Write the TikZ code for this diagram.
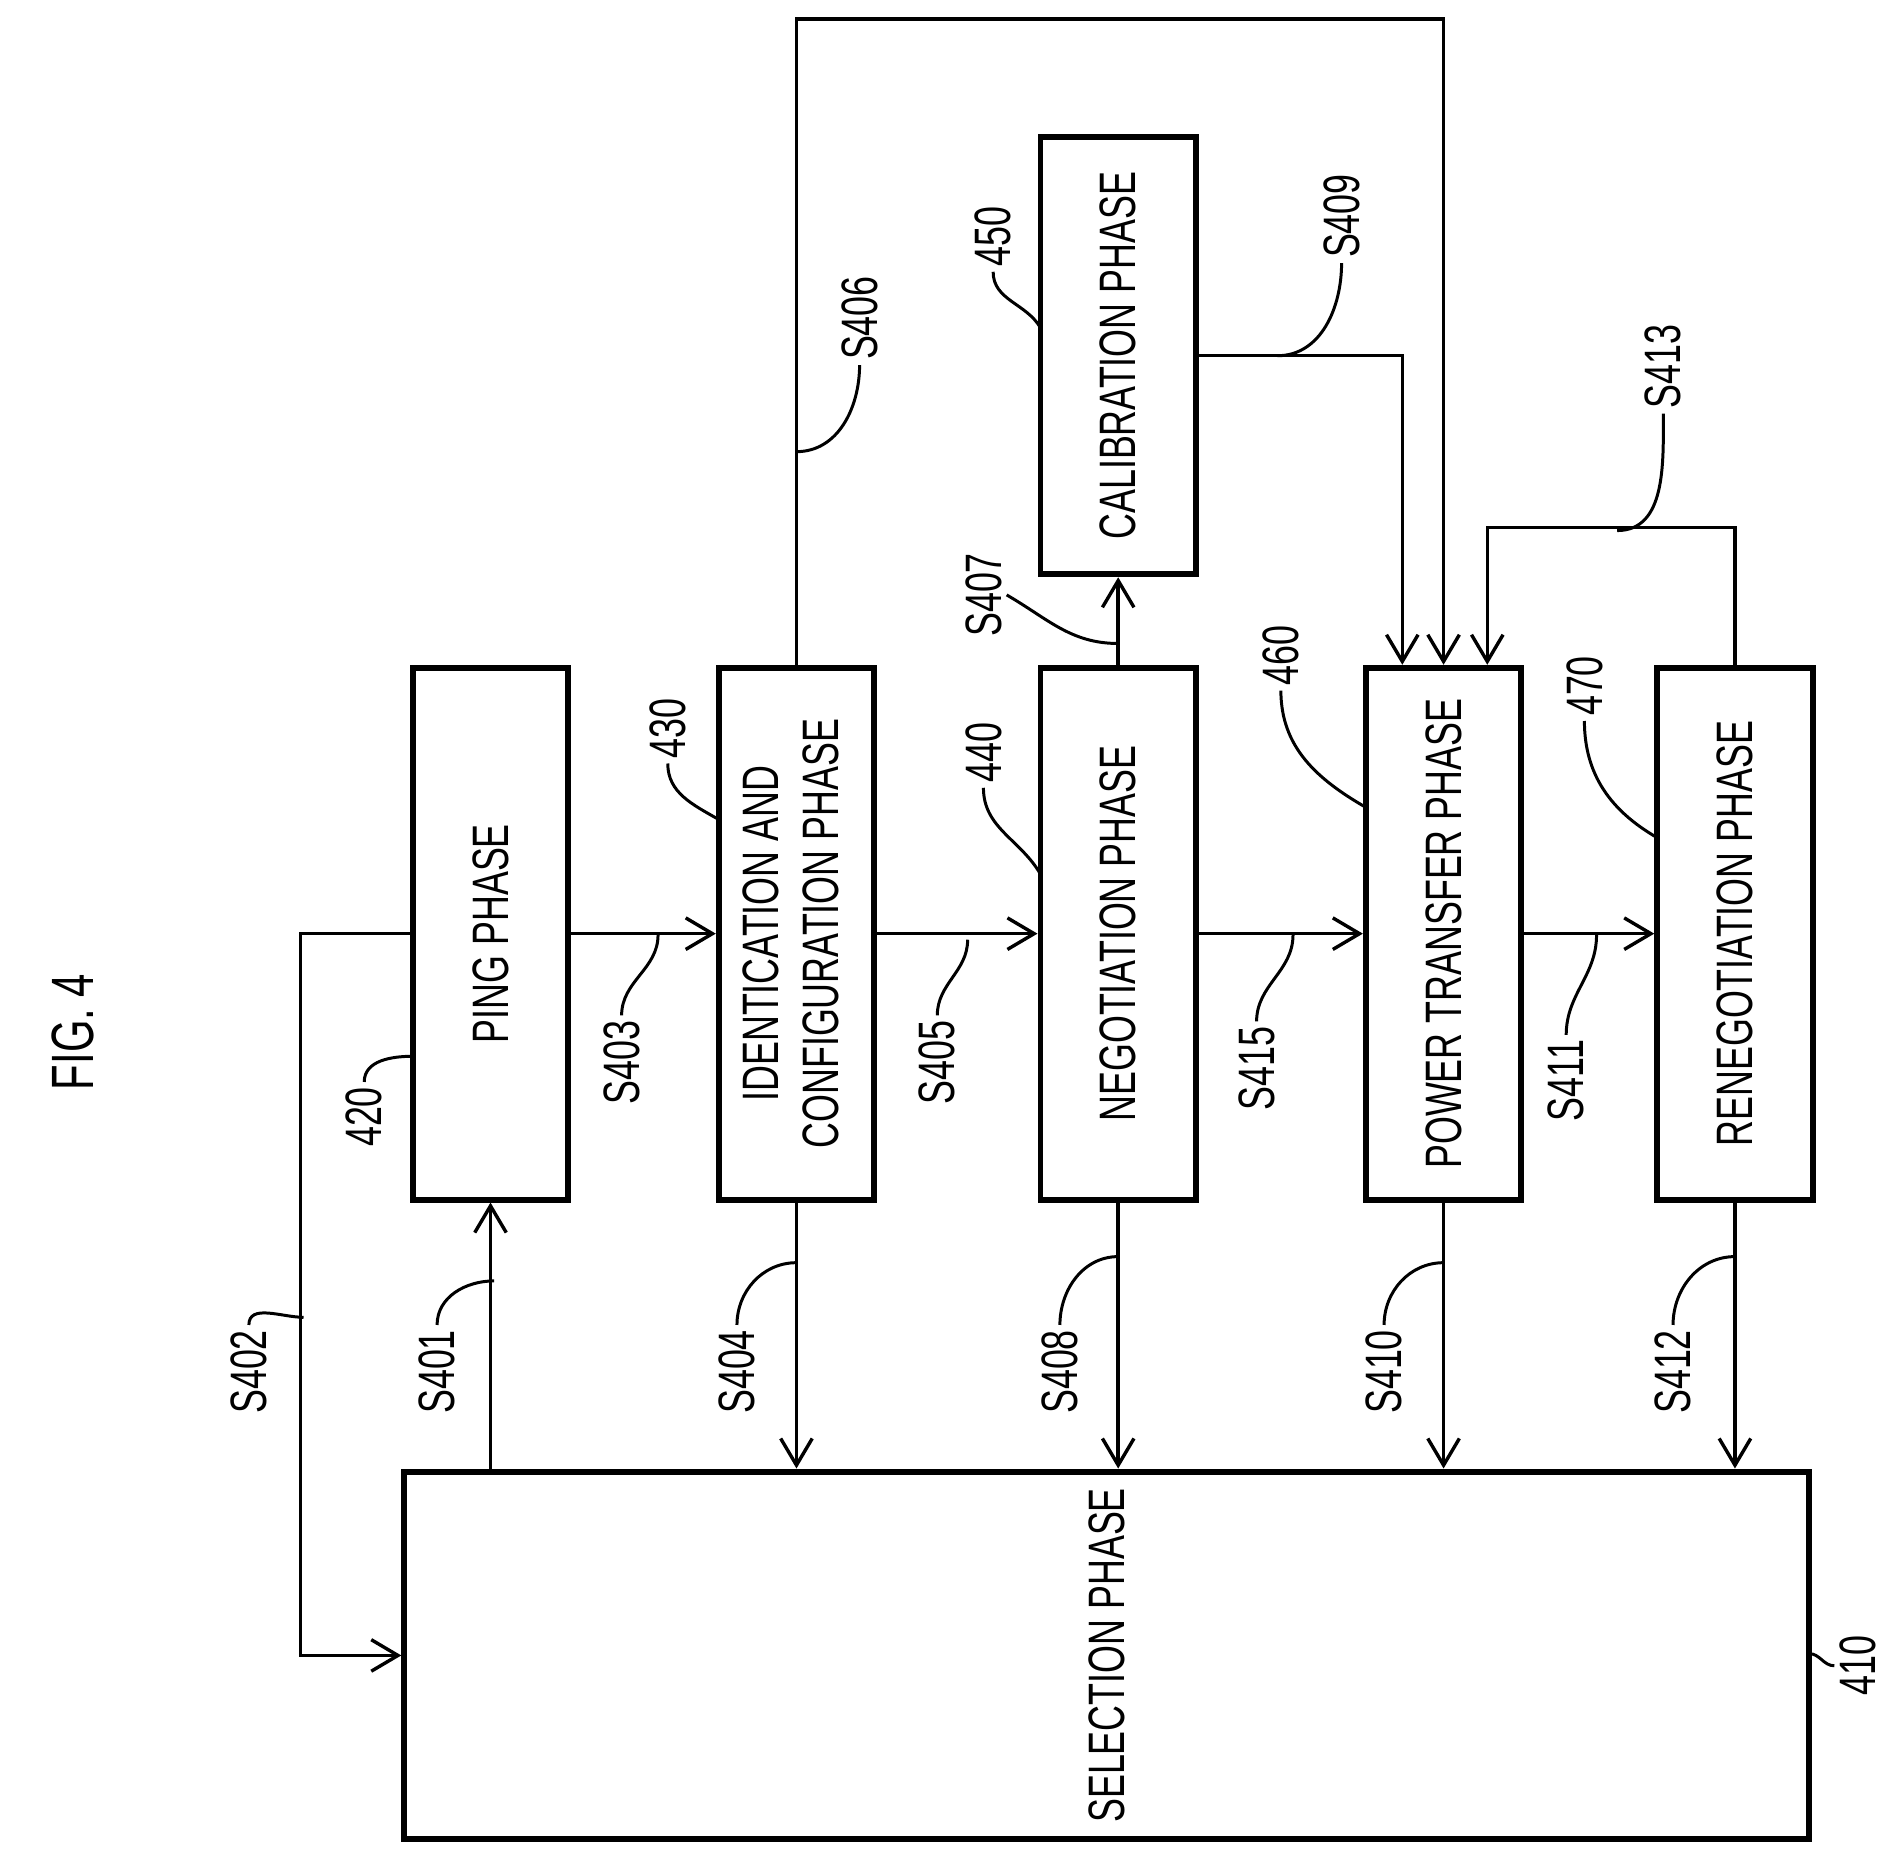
\documentclass[tikz,border=0pt]{standalone}
\usepackage{fontspec}
\setmainfont{Liberation Sans}[FakeStretch=0.7]
\usetikzlibrary{arrows.meta,calc}

\tikzset{
  phase/.style={draw, line width=1.4pt, minimum width=12.8mm, minimum height=43.8mm, inner sep=0pt, font=\fontsize{12}{14}\selectfont},
  flow/.style={line width=0.8pt, -{Straight Barb[length=2.2mm,width=2.6mm]}},
  lbl/.style={inner sep=1pt, font=\fontsize{12}{14}\selectfont},
  lead/.style={line width=0.7pt}
}
\newcommand{\vtext}[1]{\rotatebox{90}{#1}}

\begin{document}
\begin{tikzpicture}[x=0.1mm, y=-0.1mm]
  \useasboundingbox (0,0) rectangle (1560,1528);

  % phase boxes
  \node[phase, minimum width=115.7mm, minimum height=30.3mm] (sel) at (911.5,1363.5) {\vtext{SELECTION PHASE}};
  \node[phase] (ping) at (404,769) {\vtext{PING PHASE}};
  \node[phase] (ident) at (656,769) {\vtext{\begin{tabular}{c}IDENTICATION AND\\CONFIGURATION PHASE\end{tabular}}};
  \node[phase] (nego) at (921,769) {\vtext{NEGOTIATION PHASE}};
  \node[phase, minimum height=36mm] (calib) at (921,293) {\vtext{CALIBRATION PHASE}};
  \node[phase] (power) at (1189,769) {\vtext{POWER TRANSFER PHASE}};
  \node[phase] (reneg) at (1429,769) {\vtext{RENEGOTIATION PHASE}};

  \node[font=\fontsize{14}{16}\selectfont] (fig) at (60,850) {\vtext{FIG. 4}};

  % transitions
  \draw[flow] (sel.north -| ping.south) -- (ping.south);
  \draw[flow] (ping.west) -- ++(-90,0) |- (sel.west);
  \draw[flow] (ping.east) -- (ident.west);
  \draw[flow] (ident.south) -- (ident.south |- sel.north);
  \draw[flow] (ident.east) -- (nego.west);
  \draw[flow] (ident.north) -- ++(0,-532) -| (power.north);
  \draw[flow] (nego.north) -- (calib.south);
  \draw[flow] (nego.south) -- (nego.south |- sel.north);
  \draw[flow] (calib.east) -| ($(power.north)+(-34,0)$);
  \draw[flow] (power.south) -- (power.south |- sel.north);
  \draw[flow] (power.east) -- (reneg.west);
  \draw[flow] (reneg.south) -- (reneg.south |- sel.north);
  \draw[flow] (reneg.north) -- ++(0,-113) -| ($(power.north)+(36,0)$);
  \draw[flow] (nego.east) -- (power.west);

  % reference labels
  \node[lbl] (l401) at (360,1130) {\vtext{S401}};
  \node[lbl] (l402) at (205,1130) {\vtext{S402}};
  \node[lbl] (l403) at (512,875) {\vtext{S403}};
  \node[lbl] (l404) at (607,1130) {\vtext{S404}};
  \node[lbl] (l405) at (772,875) {\vtext{S405}};
  \node[lbl] (l406) at (708,262) {\vtext{S406}};
  \node[lbl] (l407) at (810,490) {\vtext{S407}};
  \node[lbl] (l408) at (873,1130) {\vtext{S408}};
  \node[lbl] (l409) at (1105,178) {\vtext{S409}};
  \node[lbl] (l410) at (1140,1130) {\vtext{S410}};
  \node[lbl] (l411) at (1290,890) {\vtext{S411}};
  \node[lbl] (l412) at (1378,1130) {\vtext{S412}};
  \node[lbl] (l413) at (1370,302) {\vtext{S413}};
  \node[lbl] (l415) at (1035,880) {\vtext{S415}};
  \node[lbl] (l410b) at (1530,1372) {\vtext{410}};
  \node[lbl] (l420) at (300,920) {\vtext{420}};
  \node[lbl] (l430) at (550,600) {\vtext{430}};
  \node[lbl] (l440) at (810,620) {\vtext{440}};
  \node[lbl] (l450) at (818,195) {\vtext{450}};
  \node[lbl] (l460) at (1055,540) {\vtext{460}};
  \node[lbl] (l470) at (1305,565) {\vtext{470}};

  % leader points
  \coordinate (c401) at (407,1055);
  \coordinate (c402) at (250,1085);
  \coordinate (c403) at (542,770);
  \coordinate (c404) at (656,1040);
  \coordinate (c405) at (797,774);
  \coordinate (c406) at (656,372);
  \coordinate (c407) at (921,530);
  \coordinate (c408) at (921,1035);
  \coordinate (c409) at (1052,293);
  \coordinate (c410) at (1189,1040);
  \coordinate (c411) at (1315,770);
  \coordinate (c412) at (1429,1035);
  \coordinate (c413) at (1332,437);
  \coordinate (c415) at (1065,770);
  \coordinate (c410b) at (1490,1362);
  \coordinate (c420) at (340,870);
  \coordinate (c430) at (592,675);
  \coordinate (c440) at (857,720);
  \coordinate (c450) at (857,270);
  \coordinate (c460) at (1125,665);
  \coordinate (c470) at (1365,690);

  \draw[lead] (l401.north) to[out=90,in=180] (c401);
  \draw[lead] (l402.north) to[out=90,in=180] (c402);
  \draw[lead] (l403.north) to[out=90,in=-90] (c403);
  \draw[lead] (l404.north) to[out=90,in=180] (c404);
  \draw[lead] (l405.north) to[out=90,in=-90] (c405);
  \draw[lead] (l406.south) to[out=-90,in=0] (c406);
  \draw[lead] (l407.east) to[out=-30,in=180] (c407);
  \draw[lead] (l408.north) to[out=90,in=180] (c408);
  \draw[lead] (l409.south) to[out=-90,in=0] (c409);
  \draw[lead] (l410.north) to[out=90,in=180] (c410);
  \draw[lead] (l411.north) to[out=90,in=-90] (c411);
  \draw[lead] (l412.north) to[out=90,in=180] (c412);
  \draw[lead] (l413.south) to[out=-90,in=0] (c413);
  \draw[lead] (l415.north) to[out=90,in=-90] (c415);
  \draw[lead] (l410b.west) to[out=180,in=0] (c410b);
  \draw[lead] (l420.north) to[out=90,in=180] (c420);
  \draw[lead] (l430.south) to[out=-90,in=150] (c430);
  \draw[lead] (l440.south) to[out=-90,in=120] (c440);
  \draw[lead] (l450.south) to[out=-90,in=120] (c450);
  \draw[lead] (l460.south) to[out=-90,in=150] (c460);
  \draw[lead] (l470.south) to[out=-90,in=150] (c470);
\end{tikzpicture}
\end{document}
